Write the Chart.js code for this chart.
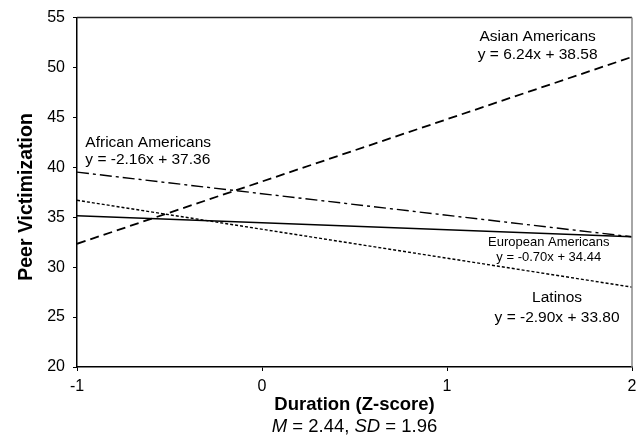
<!DOCTYPE html>
<html lang="en">
<head>
  <meta charset="UTF-8">
  <title>Peer Victimization by Duration</title>
  <style>
    html, body { margin: 0; padding: 0; background: #fff; }
    .chart-container { position: relative; width: 644px; height: 448px; }
  </style>
  <script src="https://cdn.jsdelivr.net/npm/chart.js"></script>
</head>
<body>
  <div class="chart-container">
    <canvas id="regChart" width="644" height="448"></canvas>
  </div>

  <script>
    // Endpoints of each fitted line (x = -1 and x = 2)
    const xEnds = [-1, 2];
    const asianY = [32.34, 51.06];
    const africanY = [39.52, 33.04];
    const europeanY = [35.14, 33.04];
    const latinoY = [36.70, 28.00];

    const groupNames = ['Asian Americans', 'African Americans', 'European Americans', 'Latinos'];
    const equations = ['y = 6.24x + 38.58', 'y = -2.16x + 37.36', 'y = -0.70x + 34.44', 'y = -2.90x + 33.80'];

    const yTicks = [20, 25, 30, 35, 40, 45, 50, 55];
    const xTicks = [-1, 0, 1, 2];

    const FONT = "'Liberation Sans', Arial, sans-serif";

    function pts(ys) {
      return xEnds.map((x, i) => ({ x: x, y: ys[i] }));
    }

    // where the labels sit, in data units
    const labelSpots = [
      { x: 1.49, y: 53.1, align: 'center', size: 15.5 },
      { x: -0.955, y: 42.5, align: 'left', size: 15.5 },
      { x: 1.55, y: 32.45, align: 'center', size: 13 },
      { x: 1.595, y: 26.9, align: 'center', size: 15.5 }
    ];
    const lineGaps = [18, 17, 14.5, 19.5];

    const extrasPlugin = {
      id: 'extras',
      afterDraw(chart) {
        const ctx = chart.ctx;
        const a = chart.chartArea;
        const xs = chart.scales.x, ys = chart.scales.y;
        ctx.save();

        // frame top and right
        ctx.lineWidth = 1.5;
        ctx.strokeStyle = '#222';
        ctx.beginPath();
        ctx.moveTo(a.left, a.top);
        ctx.lineTo(a.right, a.top);
        ctx.stroke();
        ctx.strokeStyle = '#888';
        ctx.beginPath();
        ctx.moveTo(a.right, a.top);
        ctx.lineTo(a.right, a.bottom);
        ctx.stroke();

        // group labels and equations
        ctx.fillStyle = '#000';
        ctx.textBaseline = 'middle';
        labelSpots.forEach((s, i) => {
          const px = xs.getPixelForValue(s.x);
          const py = ys.getPixelForValue(s.y);
          ctx.font = s.size + 'px ' + FONT;
          ctx.textAlign = s.align;
          ctx.fillText(groupNames[i], px, py);
          ctx.fillText(equations[i], px, py + lineGaps[i]);
        });

        // axis titles
        const midX = (a.left + a.right) / 2;
        ctx.textAlign = 'center';
        ctx.font = 'bold 18.5px ' + FONT;
        ctx.fillText('Duration (Z-score)', midX, 405);

        ctx.save();
        ctx.translate(27, 197);
        ctx.rotate(-Math.PI / 2);
        ctx.font = 'bold 19.5px ' + FONT;
        ctx.fillText('Peer Victimization', 0, 0);
        ctx.restore();

        // subtitle with italic M and SD
        const parts = [
          { t: 'M', it: true }, { t: ' = 2.44, ', it: false },
          { t: 'SD', it: true }, { t: ' = 1.96', it: false }
        ];
        const sz = 18.5;
        let total = 0;
        parts.forEach(p => {
          ctx.font = (p.it ? 'italic ' : '') + sz + 'px ' + FONT;
          p.w = ctx.measureText(p.t).width;
          total += p.w;
        });
        let cx = midX - total / 2;
        ctx.textAlign = 'left';
        parts.forEach(p => {
          ctx.font = (p.it ? 'italic ' : '') + sz + 'px ' + FONT;
          ctx.fillText(p.t, cx, 427);
          cx += p.w;
        });

        ctx.restore();
      }
    };

    const ctx = document.getElementById('regChart');
    new Chart(ctx, {
      type: 'line',
      data: {
        datasets: [
          { label: groupNames[0], data: pts(asianY), borderColor: '#000', borderWidth: 1.8, borderDash: [9, 5], pointRadius: 0, fill: false },
          { label: groupNames[1], data: pts(africanY), borderColor: '#000', borderWidth: 1.4, borderDash: [12, 4, 3, 4], pointRadius: 0, fill: false },
          { label: groupNames[2], data: pts(europeanY), borderColor: '#000', borderWidth: 1.5, pointRadius: 0, fill: false },
          { label: groupNames[3], data: pts(latinoY), borderColor: '#000', borderWidth: 1.4, borderDash: [3, 2], pointRadius: 0, fill: false }
        ]
      },
      options: {
        responsive: false,
        animation: false,
        layout: { padding: { left: 0, top: 14, right: 12, bottom: 0 } },
        plugins: {
          legend: { display: false },
          tooltip: { enabled: false }
        },
        scales: {
          x: {
            type: 'linear',
            min: -1,
            max: 2,
            afterBuildTicks(scale) { scale.ticks = xTicks.map(v => ({ value: v })); },
            afterFit(scale) { scale.height = 81; },
            border: { display: true, color: '#000', width: 1.5 },
            grid: { drawOnChartArea: false, drawTicks: true, tickLength: 4, tickColor: '#000', lineWidth: 1 },
            ticks: { color: '#000', font: { family: FONT, size: 16 }, padding: 6, maxRotation: 0 }
          },
          y: {
            min: 20,
            max: 55,
            afterBuildTicks(scale) { scale.ticks = yTicks.map(v => ({ value: v })); },
            afterFit(scale) { scale.width = 77; },
            border: { display: true, color: '#000', width: 1.5 },
            grid: { drawOnChartArea: false, drawTicks: true, tickLength: 4, tickColor: '#000', lineWidth: 1 },
            ticks: { color: '#000', font: { family: FONT, size: 16 }, padding: 8 }
          }
        }
      },
      plugins: [extrasPlugin]
    });
  </script>
</body>
</html>
